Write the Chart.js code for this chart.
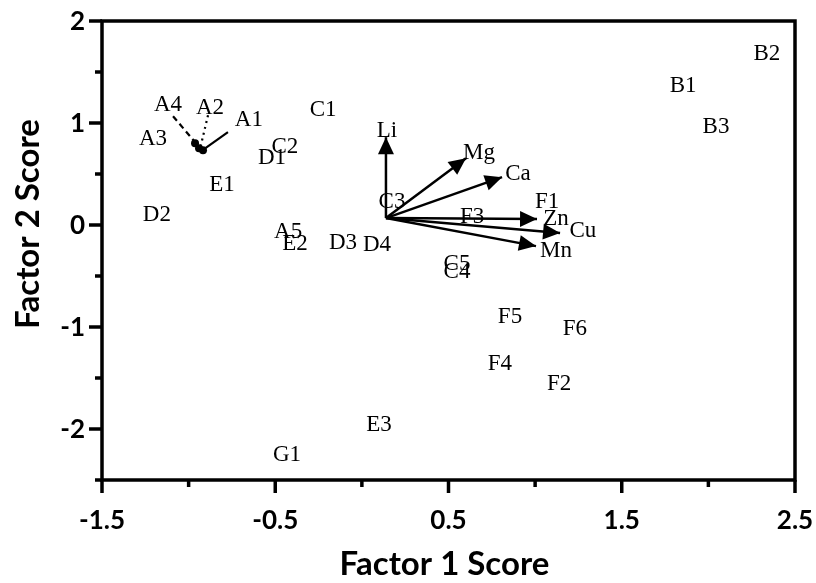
<!DOCTYPE html>
<html><head><meta charset="utf-8">
<script src="https://cdn.jsdelivr.net/npm/chart.js@4/dist/chart.umd.min.js"></script>
<style>html,body{margin:0;padding:0;background:#fff;}#wrap{width:816px;height:583px;}</style>
</head><body><div id="wrap"><canvas id="c" width="816" height="583"></canvas></div>
<script>
// ---- data ----
const sampleLabels = ['A1','A2','A3','A4','A5','B1','B2','B3','C1','C2','C3','C4','C5','D1','D2','D3','D4','E1','E2','E3','F1','F2','F3','F4','F5','F6','G1'];
const sampleX = [-0.652,-0.877,-1.206,-1.119,-0.426,1.854,2.338,2.044,-0.224,-0.444,0.174,0.549,0.549,-0.519,-1.183,-0.109,0.087,-0.807,-0.386,0.099,1.069,1.138,0.636,0.797,0.855,1.230,-0.432];
const sampleY = [1.047,1.165,0.861,1.194,-0.050,1.380,1.693,0.978,1.145,0.783,0.244,-0.442,-0.363,0.675,0.117,-0.158,-0.177,0.410,-0.167,-1.940,0.244,-1.539,0.097,-1.343,-0.882,-1.000,-2.234];

const variableLabels = ['Li','Mg','Ca','Zn','Cu','Mn'];
const loadingX = [0.139,0.601,0.809,1.011,1.144,1.005];
const loadingY = [0.861,0.655,0.469,0.058,-0.079,-0.207];
const loadingLabelX = [0.145,0.676,0.901,1.120,1.276,1.120];
const loadingLabelY = [0.939,0.724,0.518,0.077,-0.040,-0.236];
const arrowOriginX = 0.139;
const arrowOriginY = 0.068;

const clusterX = [-0.963,-0.940,-0.917];
const clusterY = [0.802,0.753,0.734];
const leaderA4X = [-1.090,-0.963], leaderA4Y = [1.067,0.812];
const leaderA2X = [-0.888,-0.929], leaderA2Y = [1.076,0.783];
const leaderA1X = [-0.773,-0.911], leaderA1Y = [0.910,0.743];

const xTickValues = [-1.5,-0.5,0.5,1.5,2.5];
const xTickLabels = ['-1.5','-0.5','0.5','1.5','2.5'];
const xMinorTicks = [-1,0,1,2];
const yTickValues = [2,1,0,-1,-2];
const yTickLabels = ['2','1','0','-1','-2'];
const yMinorTicks = [1.5,0.5,-0.5,-1.5,-2.5];

const xTitle = 'Factor 1 Score';
const yTitle = 'Factor 2 Score';

// ---- build datasets ----
const pts = (xs, ys) => xs.map((x,i)=>({x:x,y:ys[i]}));
const datasets = [];
datasets.push({type:'scatter', data: pts(sampleX, sampleY), pointRadius:0, pointHoverRadius:0});
variableLabels.forEach((v,i)=>{
  datasets.push({type:'line', data:[{x:arrowOriginX,y:arrowOriginY},{x:loadingX[i],y:loadingY[i]}], borderColor:'#000', borderWidth:2.5, pointRadius:0, fill:false});
});
datasets.push({type:'line', data: pts(leaderA4X, leaderA4Y), borderColor:'#000', borderWidth:2.2, borderDash:[6,4], pointRadius:0});
datasets.push({type:'line', data: pts(leaderA2X, leaderA2Y), borderColor:'#000', borderWidth:2.2, borderDash:[2,4], pointRadius:0});
datasets.push({type:'line', data: pts(leaderA1X, leaderA1Y), borderColor:'#000', borderWidth:2.2, pointRadius:0});
datasets.push({type:'scatter', data: pts(clusterX, clusterY), pointRadius:4, backgroundColor:'#000', borderColor:'#000', borderWidth:0});

const SERIF = '"Liberation Serif", "Times New Roman", serif';
const SANS = 'Lato, "Open Sans", "Liberation Sans", sans-serif';

const decor = {
  id:'decor',
  afterDatasetsDraw(chart){
    const ctx = chart.ctx, xs = chart.scales.x, ys = chart.scales.y, a = chart.chartArea;
    ctx.save();
    // arrowheads
    const ox = xs.getPixelForValue(arrowOriginX), oy = ys.getPixelForValue(arrowOriginY);
    ctx.fillStyle = '#000';
    variableLabels.forEach((v,i)=>{
      const tx = xs.getPixelForValue(loadingX[i]), ty = ys.getPixelForValue(loadingY[i]);
      const dx = tx-ox, dy = ty-oy, L = Math.hypot(dx,dy), ux = dx/L, uy = dy/L;
      const hl = 17, hw = 8;
      const bx = tx-ux*hl, by = ty-uy*hl;
      ctx.beginPath();
      ctx.moveTo(tx,ty);
      ctx.lineTo(bx - uy*hw, by + ux*hw);
      ctx.lineTo(bx + uy*hw, by - ux*hw);
      ctx.closePath(); ctx.fill();
    });
    // text labels
    ctx.fillStyle = '#000';
    ctx.font = '23px ' + SERIF;
    ctx.textAlign = 'center'; ctx.textBaseline = 'alphabetic';
    sampleLabels.forEach((s,i)=>{
      ctx.fillText(s, xs.getPixelForValue(sampleX[i]), ys.getPixelForValue(sampleY[i]) + 7.8);
    });
    variableLabels.forEach((s,i)=>{
      ctx.fillText(s, xs.getPixelForValue(loadingLabelX[i]), ys.getPixelForValue(loadingLabelY[i]) + 7.8);
    });
    // frame
    ctx.strokeStyle = '#000'; ctx.lineWidth = 3.5; ctx.lineCap = 'square';
    ctx.strokeRect(a.left, a.top, a.right-a.left, a.bottom-a.top);
    ctx.lineCap = 'butt';
    // ticks
    ctx.lineWidth = 3.5;
    xTickValues.forEach(v=>{ const p = xs.getPixelForValue(v); ctx.beginPath(); ctx.moveTo(p,a.bottom); ctx.lineTo(p,a.bottom+13); ctx.stroke(); });
    xMinorTicks.forEach(v=>{ const p = xs.getPixelForValue(v); ctx.beginPath(); ctx.moveTo(p,a.bottom); ctx.lineTo(p,a.bottom+7); ctx.stroke(); });
    yTickValues.forEach(v=>{ const p = ys.getPixelForValue(v); ctx.beginPath(); ctx.moveTo(a.left,p); ctx.lineTo(a.left-13,p); ctx.stroke(); });
    yMinorTicks.forEach(v=>{ const p = ys.getPixelForValue(v); ctx.beginPath(); ctx.moveTo(a.left,p); ctx.lineTo(a.left-7,p); ctx.stroke(); });
    // tick labels
    ctx.font = 'bold 26px ' + SANS;
    ctx.textAlign = 'center'; ctx.textBaseline = 'middle';
    xTickValues.forEach((v,i)=>{ ctx.fillText(xTickLabels[i], xs.getPixelForValue(v), a.bottom + 41); });
    ctx.textAlign = 'right';
    yTickValues.forEach((v,i)=>{ ctx.fillText(yTickLabels[i], a.left - 17, ys.getPixelForValue(v) + 1); });
    // titles
    ctx.font = 'bold 33px ' + SANS;
    ctx.textAlign = 'center';
    ctx.fillText(xTitle, (a.left+a.right)/2 - 4, a.bottom + 84);
    ctx.save();
    ctx.translate(28, 224); ctx.rotate(-Math.PI/2);
    ctx.fillText(yTitle, 0, 0);
    ctx.restore();
    ctx.restore();
  }
};

new Chart(document.getElementById('c'), {
  type:'scatter',
  data:{datasets},
  options:{
    responsive:false, animation:false, devicePixelRatio:1,
    layout:{padding:{left:102, right:21, top:21, bottom:103}},
    plugins:{legend:{display:false}, tooltip:{enabled:false}},
    events:[],
    scales:{
      x:{type:'linear', min:-1.5, max:2.5, display:false},
      y:{type:'linear', min:-2.5, max:2, display:false}
    }
  },
  plugins:[decor]
});
</script></body></html>
